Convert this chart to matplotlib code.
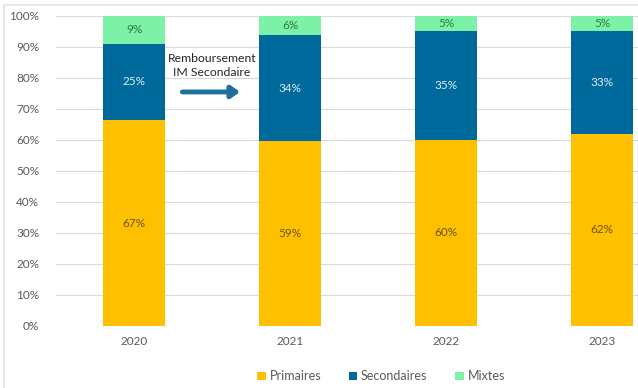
import matplotlib.pyplot as plt
import numpy as np
from matplotlib.patches import Rectangle

years = ["2020", "2021", "2022", "2023"]
primaires = np.array([67, 59, 60, 62])
secondaires = np.array([25, 34, 35, 33])
mixtes = np.array([9, 6, 5, 5])
y_ticks = [0, 10, 20, 30, 40, 50, 60, 70, 80, 90, 100]

plt.rcParams["font.family"] = ["Lato", "DejaVu Sans"]

series = [
    ("Primaires", primaires, "#FFC000", "#6B5300"),
    ("Secondaires", secondaires, "#00699B", "#D8F0FF"),
    ("Mixtes", mixtes, "#7DF1A8", "#2E7D32"),
]

# Excel-style 100% stacking: each column is normalised by its total
totals = primaires + secondaires + mixtes

fig = plt.figure(figsize=(6.38, 3.88), dpi=100)
fig.patch.set_facecolor("white")
ax = fig.add_axes([0.0878, 0.1598, 0.978, 0.799])

x = np.arange(len(years))
bottom = np.zeros(len(years))
for name, vals, color, txt in series:
    share = vals / totals * 100
    ax.bar(x, share, width=0.4, bottom=bottom, color=color, label=name, zorder=2)
    for xi, b, s, v in zip(x, bottom, share, vals):
        ax.text(xi, b + s / 2, f"{v}%", ha="center", va="center",
                fontsize=8.5, color=txt, zorder=3)
    bottom += share

ax.set_xlim(-0.5, len(years) - 0.5)
ax.set_ylim(0, 100)
ax.set_yticks(y_ticks)
ax.set_yticklabels([f"{t}%" for t in y_ticks])
ax.set_xticks(x)
ax.set_xticklabels(years)
ax.yaxis.grid(True, color="#D9D9D9", linewidth=0.8, zorder=0)
ax.tick_params(length=0, labelsize=8.5, colors="#595959")
ax.tick_params(axis="y", pad=12)
ax.tick_params(axis="x", pad=7)
for spine in ax.spines.values():
    spine.set_visible(False)

ax.text(0.5, 84, "Remboursement\nIM Secondaire", ha="center", va="center",
        fontsize=8.8, color="#262626", linespacing=1.25)
ax.annotate("", xy=(0.68, 75.5), xytext=(0.31, 75.5),
            arrowprops=dict(arrowstyle="-|>,head_length=0.5,head_width=0.35",
                            color="#1F6E9C", lw=3.5, shrinkA=0, shrinkB=0))

fig.legend(loc="center", bbox_to_anchor=(0.597, 0.03), ncol=3, frameon=False,
           fontsize=9, labelcolor="#595959", handlelength=0.7,
           handleheight=0.7, handletextpad=0.3, columnspacing=2.2)

# light page frame around the chart
fig.patches.append(Rectangle((0.006, -0.01), 1.0, 0.997, transform=fig.transFigure,
                             fill=False, edgecolor="#E3E3E3", linewidth=1.2))

fig.savefig("out.png", dpi=100, facecolor="white")
